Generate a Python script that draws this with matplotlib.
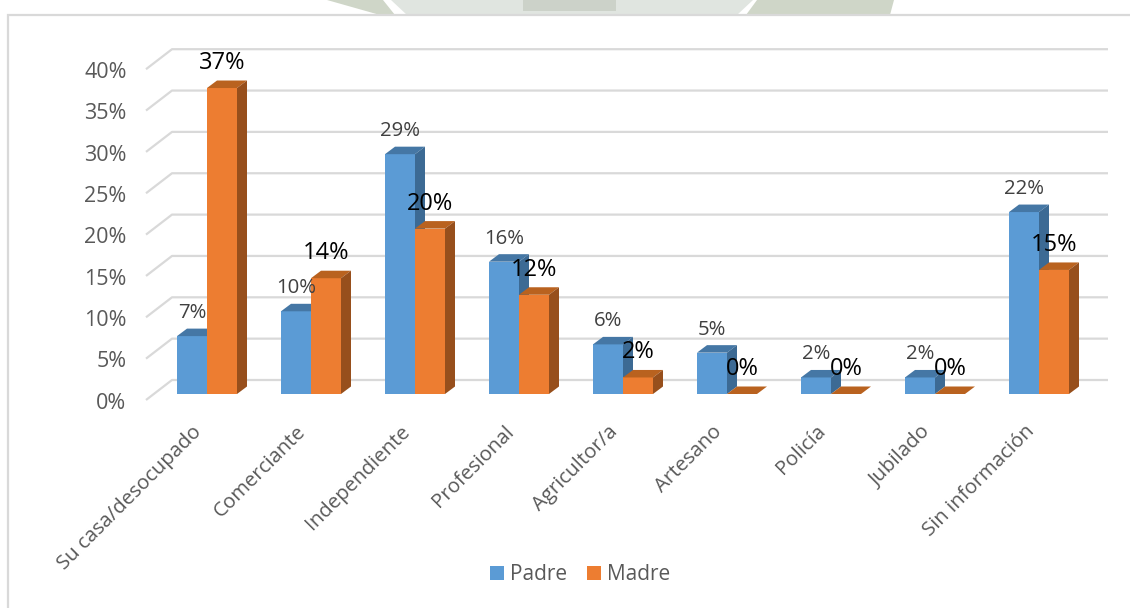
import numpy as np
import matplotlib
matplotlib.use("Agg")
import matplotlib.pyplot as plt
from matplotlib.patches import Polygon, Rectangle
from matplotlib.transforms import ScaledTranslation

plt.rcParams["font.family"] = ["Open Sans", "DejaVu Sans"]

categories = ["Su casa/desocupado", "Comerciante", "Independiente", "Profesional",
              "Agricultor/a", "Artesano", "Policía", "Jubilado", "Sin información"]
padre = [7, 10, 29, 16, 6, 5, 2, 2, 22]
madre = [37, 14, 20, 12, 2, 0, 0, 0, 15]
y_ticks = [0, 5, 10, 15, 20, 25, 30, 35, 40]

W, H = 1130, 608
GROUP_PX = 104.0    # px between categories
UNIT_PX = 8.27      # px per percent
X0_PX, Y0_PX = 207.0, 394.0  # centre of first group, bar base
LEFT_PX, RIGHT_PX = 146.0, 1108.0
Y_MIN, Y_MAX = -2, 40

BAR_W = 30 / GROUP_PX
DX = 10 / GROUP_PX   # depth of the fake 3d
DY = 7.5 / UNIT_PX
WALL_DX = 26 / GROUP_PX
WALL_DY = 20 / UNIT_PX
WALL_DROP = 6 / UNIT_PX


def add_bar_3d(ax, x, values, face, top, side, z):
    ax.bar(x, values, BAR_W, align="edge", color=face, zorder=z, clip_on=False)
    for xi, v in zip(x, values):
        xr = xi + BAR_W
        ax.add_patch(Polygon([(xi, v), (xr, v), (xr + DX, v + DY), (xi + DX, v + DY)],
                             closed=True, fc=top, ec="none", zorder=z, clip_on=False))
        ax.add_patch(Polygon([(xr, 0), (xr + DX, DY), (xr + DX, v + DY), (xr, v)],
                             closed=True, fc=side, ec="none", zorder=z, clip_on=False))


def px_poly(fig, pts, color):
    # pts are image pixels, y going down
    fig.add_artist(Polygon([(x, H - y) for x, y in pts], closed=True, fc=color, ec="none",
                           transform=None, zorder=0))


def main():
    fig = plt.figure(figsize=(W / 100, H / 100), dpi=100, facecolor="white")

    # scraps of the page watermark above the chart box
    px_poly(fig, [(327, 0), (383, 0), (395, 15), (380, 15)], "#cfd6c8")
    px_poly(fig, [(391, 0), (753, 0), (737, 15), (407, 15)], "#e0e5e0")
    px_poly(fig, [(523, 0), (616, 0), (616, 11), (523, 11)], "#ccd2c9")
    px_poly(fig, [(757, 0), (894, 0), (890, 15), (746, 15)], "#cfd6c8")
    fig.add_artist(Rectangle((8 / W, -0.01), 1.0, (H - 15) / H + 0.01, transform=fig.transFigure,
                             fc="white", ec="#d9d9d9", lw=1.6, zorder=0.5))

    bottom_px = Y0_PX - Y_MIN * UNIT_PX
    ax = fig.add_axes([LEFT_PX / W, (H - bottom_px) / H, (RIGHT_PX - LEFT_PX) / W,
                       (Y_MAX - Y_MIN) * UNIT_PX / H])
    ax.set_zorder(2)
    xlim = ((LEFT_PX - X0_PX) / GROUP_PX, (RIGHT_PX - X0_PX) / GROUP_PX)
    ax.patch.set_alpha(0)
    for s in ax.spines.values():
        s.set_visible(False)

    x = np.arange(len(categories))
    for v in y_ticks:
        ax.plot([xlim[0], xlim[0] + WALL_DX, xlim[1]],
                [v - WALL_DROP, v - WALL_DROP + WALL_DY, v - WALL_DROP + WALL_DY],
                color="#d9d9d9", lw=1.6, zorder=1, clip_on=False, solid_capstyle="butt")

    add_bar_3d(ax, x - BAR_W, padre, "#5b9bd5", "#4577a5", "#3c6a94", 2)
    add_bar_3d(ax, x, madre, "#ed7d31", "#b9621f", "#974f1c", 3)

    for xi, v in zip(x - BAR_W / 2, padre):
        ax.annotate(f"{v}%", (xi, v), xytext=(0, 23 * 0.72), textcoords="offset points",
                    ha="center", va="center", fontsize=14.7, color="#404040", zorder=5,
                    annotation_clip=False)
    for xi, v in zip(x + BAR_W / 2, madre):
        ax.annotate(f"{v}%", (xi, v), xytext=(0, 25 * 0.72), textcoords="offset points",
                    ha="center", va="center", fontsize=17, color="black", zorder=6,
                    annotation_clip=False)

    ax.set_yticks(np.array(y_ticks) - 0.8, [f"{v}%" for v in y_ticks])
    ax.tick_params(axis="y", length=0, pad=14, labelsize=15.5, labelcolor="#595959")
    ax.set_xticks(x, categories, rotation=45, ha="right", rotation_mode="anchor")
    ax.tick_params(axis="x", length=0, pad=8, labelsize=14.7, labelcolor="#595959")
    # setting ticks widens the view, so limits come last
    ax.set_xlim(xlim)
    ax.set_ylim(Y_MIN, Y_MAX)

    shift = ScaledTranslation(-15 / 100, 0, fig.dpi_scale_trans)
    for lab in ax.get_xticklabels():
        lab.set_transform(lab.get_transform() + shift)

    handles = [Rectangle((0, 0), 1, 1, fc="#5b9bd5"), Rectangle((0, 0), 1, 1, fc="#ed7d31")]
    fig.legend(handles, ["Padre", "Madre"], loc="center", bbox_to_anchor=(580 / W, (H - 575) / H),
               ncol=2, frameon=False, fontsize=15, labelcolor="#595959", handlelength=0.67,
               handleheight=0.67, handletextpad=0.3, columnspacing=0.95)

    fig.savefig("out.png", dpi=100)


if __name__ == "__main__":
    main()
